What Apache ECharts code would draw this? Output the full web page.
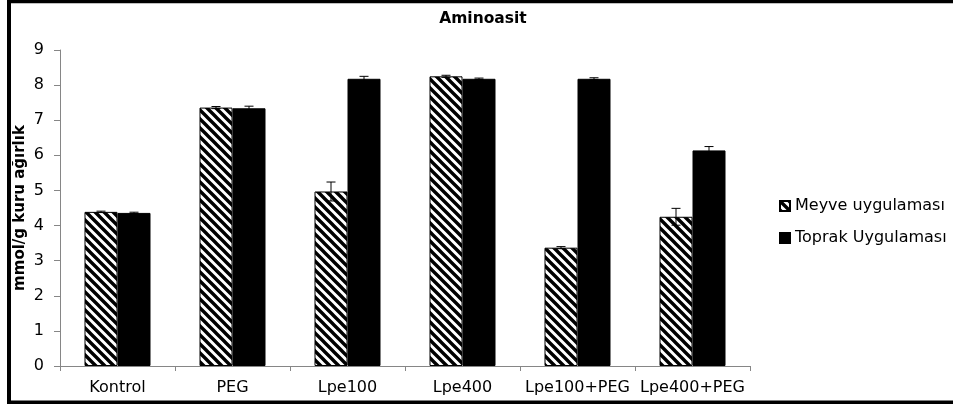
<!DOCTYPE html>
<html>
<head>
<meta charset="utf-8">
<script src="https://cdn.jsdelivr.net/npm/echarts@6/dist/echarts.min.js"></script>
<style>html,body{margin:0;padding:0;background:#fff;overflow:hidden}#c{width:953px;height:408px}</style>
</head>
<body>
<div id="c"></div>
<script>
const categories = ['Kontrol', 'PEG', 'Lpe100', 'Lpe400', 'Lpe100+PEG', 'Lpe400+PEG'];
const meyveValues = [4.39, 7.36, 4.97, 8.25, 3.37, 4.25];
const meyveErrors = [0.02, 0.03, 0.27, 0.03, 0.03, 0.24];
const toprakValues = [4.36, 7.34, 8.18, 8.18, 8.18, 6.14];
const toprakErrors = [0.02, 0.06, 0.07, 0.02, 0.03, 0.11];
const seriesNames = ['Meyve uygulaması', 'Toprak Uygulaması'];
const yTicks = [0, 1, 2, 3, 4, 5, 6, 7, 8, 9];

const BAR_W = 33;
const FONT = 'DejaVu Sans';

function hatch() {
  const s = 9;
  const c = document.createElement('canvas');
  c.width = s; c.height = s;
  const g = c.getContext('2d');
  g.fillStyle = '#fff'; g.fillRect(0, 0, s, s);
  g.strokeStyle = '#000'; g.lineWidth = 3.4;
  g.beginPath();
  g.moveTo(-3, -3); g.lineTo(s + 3, s + 3);
  g.moveTo(-s - 3, -3); g.lineTo(3, s + 3);
  g.moveTo(s - 3, -3); g.lineTo(2 * s + 3, s + 3);
  g.stroke();
  return { image: c, repeat: 'repeat' };
}
const pattern = hatch();

function errData(vals, errs) {
  return vals.map((v, i) => [i, v, errs[i]]);
}
function errSeries(name, vals, errs, side) {
  return {
    type: 'custom',
    name: name,
    data: errData(vals, errs),
    encode: { x: 0, y: 1 },
    z: 10,
    silent: true,
    renderItem: function (params, api) {
      const i = api.value(0), v = api.value(1), e = api.value(2);
      const top = api.coord([i, v + e]);
      const bot = api.coord([i, v - e]);
      const x = top[0] + side * BAR_W / 2;
      const cap = 4.5;
      const st = { stroke: '#000', lineWidth: 1, fill: null };
      return {
        type: 'group',
        children: [
          { type: 'line', shape: { x1: x, y1: top[1], x2: x, y2: bot[1] }, style: st },
          { type: 'line', shape: { x1: x - cap, y1: top[1], x2: x + cap, y2: top[1] }, style: st },
          { type: 'line', shape: { x1: x - cap, y1: bot[1], x2: x + cap, y2: bot[1] }, style: st }
        ]
      };
    }
  };
}

const chart = echarts.init(document.getElementById('c'));
chart.setOption({
  animation: false,
  backgroundColor: '#fff',
  title: {
    text: 'Aminoasit',
    left: 478, top: 6, textAlign: 'center',
    textStyle: { fontFamily: FONT, fontWeight: 'bold', fontSize: 15.5, color: '#000' }
  },
  legend: {
    orient: 'vertical',
    left: 779, top: 197, padding: 0,
    itemWidth: 10, itemHeight: 10, itemGap: 14,
    icon: 'rect',
    data: seriesNames,
    textStyle: { fontFamily: FONT, fontSize: 16, color: '#000', lineHeight: 18 }
  },
  grid: { left: 60, right: 203, top: 50, bottom: 42 },
  xAxis: {
    type: 'category',
    data: categories,
    axisLine: { lineStyle: { color: '#868686' } },
    axisTick: { show: true, length: 5, lineStyle: { color: '#868686' } },
    axisLabel: { interval: 0, margin: 14, fontFamily: FONT, fontSize: 16, color: '#000' }
  },
  yAxis: {
    type: 'value',
    min: yTicks[0], max: yTicks[yTicks.length - 1], interval: 1,
    name: 'mmol/g kuru ağırlık',
    nameLocation: 'middle',
    nameGap: 32,
    nameMoveOverlap: false,
    nameTextStyle: { fontFamily: FONT, fontWeight: 'bold', fontSize: 15, color: '#000' },
    axisLine: { show: true, lineStyle: { color: '#868686' } },
    axisTick: { show: true, length: 6, lineStyle: { color: '#868686' } },
    splitLine: { show: false },
    axisLabel: { margin: 16, fontFamily: FONT, fontSize: 16, color: '#000' }
  },
  series: [
    {
      type: 'bar', name: seriesNames[0], data: meyveValues,
      barWidth: BAR_W, barGap: '0%',
      itemStyle: { color: pattern, borderColor: '#000', borderWidth: 1 }
    },
    {
      type: 'bar', name: seriesNames[1], data: toprakValues,
      barWidth: BAR_W, barGap: '0%',
      itemStyle: { color: '#000', borderColor: '#000', borderWidth: 1 }
    },
    errSeries(seriesNames[0], meyveValues, meyveErrors, -1),
    errSeries(seriesNames[1], toprakValues, toprakErrors, 1)
  ],
  graphic: [
    { type: 'line', silent: true, z: 100, shape: { x1: 9, y1: 0, x2: 9, y2: 404 }, style: { stroke: '#000', lineWidth: 4 } },
    { type: 'line', silent: true, z: 100, shape: { x1: 7, y1: 1.5, x2: 953, y2: 1.5 }, style: { stroke: '#000', lineWidth: 3.5 } },
    { type: 'line', silent: true, z: 100, shape: { x1: 7, y1: 402.3, x2: 953, y2: 402.3 }, style: { stroke: '#000', lineWidth: 3.5 } }
  ]
});
</script>
</body>
</html>
